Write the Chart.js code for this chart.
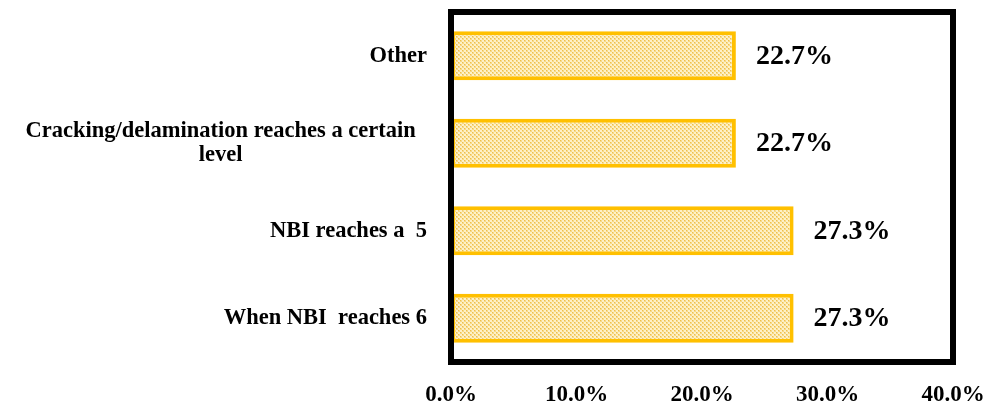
<!DOCTYPE html>
<html>
<head>
<meta charset="utf-8">
<script src="https://cdn.jsdelivr.net/npm/chart.js@4/dist/chart.umd.min.js"></script>
<style>
  html, body { margin: 0; padding: 0; background: #ffffff; }
  #wrap { width: 990px; height: 407px; position: relative; }
</style>
</head>
<body>
<div id="wrap"><canvas id="c"></canvas></div>
<script>
// Response categories (top to bottom) and their shares in percent
const categories = [
  "Other",
  ["Cracking/delamination reaches a certain  ", "level"],
  "NBI reaches a  5",
  "When NBI  reaches 6"
];
const shares = [22.7, 22.7, 27.3, 27.3];
const axisTicks = [0, 10, 20, 30, 40];

const SERIF = "'Liberation Serif', 'Times New Roman', serif";

// Dotted diagonal fill used inside the bars
function makeFill() {
  const t = document.createElement('canvas');
  t.width = 4; t.height = 4;
  const g = t.getContext('2d');
  g.fillStyle = '#fdf1c8';
  g.fillRect(0, 0, 4, 4);
  g.fillStyle = '#efc04a';
  g.fillRect(0, 0, 1.5, 1.5);
  g.fillRect(2, 2, 1.5, 1.5);
  g.fillStyle = '#f7d987';
  g.fillRect(1, 1, 1, 1);
  g.fillRect(3, 3, 1, 1);
  return g.createPattern(t, 'repeat');
}

// Category names drawn as right-aligned blocks, each line centred in its block
const categoryLabels = {
  id: 'categoryLabels',
  afterDraw(chart) {
    const ctx = chart.ctx;
    const y = chart.scales.y;
    const rightEdge = 427;
    const lineH = 24;
    ctx.save();
    ctx.font = 'bold 22.5px ' + SERIF;
    ctx.fillStyle = '#000';
    ctx.textBaseline = 'middle';
    ctx.textAlign = 'center';
    categories.forEach((lab, i) => {
      const lines = Array.isArray(lab) ? lab : [lab];
      let widest = lines[0];
      lines.forEach(l => { if (ctx.measureText(l).width > ctx.measureText(widest).width) widest = l; });
      const full = ctx.measureText(widest).width;
      const trimmed = ctx.measureText(widest.trimEnd()).width;
      const cx = rightEdge - (full - trimmed) - trimmed / 2;
      const cy = y.getPixelForValue(i);
      const y0 = cy - (lines.length - 1) * lineH / 2;
      lines.forEach((l, k) => ctx.fillText(l.trimEnd(), cx, y0 + k * lineH));
    });
    ctx.restore();
  }
};

// Thick black frame around the plot area plus value labels beside bars
const frameAndValues = {
  id: 'frameAndValues',
  afterDatasetsDraw(chart) {
    const ctx = chart.ctx;
    const a = chart.chartArea;
    ctx.save();
    ctx.strokeStyle = '#000';
    ctx.lineWidth = 6;
    ctx.strokeRect(a.left, a.top, a.right - a.left, a.bottom - a.top);
    ctx.font = 'bold 28px ' + SERIF;
    ctx.fillStyle = '#000';
    ctx.textAlign = 'left';
    ctx.textBaseline = 'middle';
    chart.getDatasetMeta(0).data.forEach((bar, i) => {
      ctx.fillText(shares[i].toFixed(1) + '%', bar.x + 20, bar.y + 1);
    });
    ctx.restore();
  }
};

new Chart(document.getElementById('c'), {
  type: 'bar',
  data: {
    labels: categories,
    datasets: [{
      data: shares,
      backgroundColor: makeFill(),
      borderColor: '#ffc000',
      borderWidth: 4,
      borderSkipped: false,
      categoryPercentage: 1,
      barPercentage: 0.56
    }]
  },
  options: {
    indexAxis: 'y',
    responsive: true,
    maintainAspectRatio: false,
    animation: false,
    layout: { padding: { top: 12, right: 37, left: 0, bottom: 0 } },
    plugins: {
      legend: { display: false },
      tooltip: { enabled: false }
    },
    scales: {
      x: {
        min: axisTicks[0],
        max: axisTicks[axisTicks.length - 1],
        afterBuildTicks(scale) { scale.ticks = axisTicks.map(v => ({ value: v })); },
        afterFit(scale) {
          scale.height = 45;
          scale.paddingLeft = 0;
          scale.paddingRight = 0;
        },
        grid: { display: false, drawTicks: false },
        border: { display: false },
        ticks: {
          padding: 19,
          color: '#000',
          maxRotation: 0,
          font: { family: SERIF, size: 23, weight: 'bold' },
          callback: v => v.toFixed(1) + '%'
        }
      },
      y: {
        afterFit(scale) { scale.width = 451; },
        grid: { display: false, drawTicks: false },
        border: { display: false },
        ticks: { display: false }
      }
    }
  },
  plugins: [categoryLabels, frameAndValues]
});
</script>
</body>
</html>
